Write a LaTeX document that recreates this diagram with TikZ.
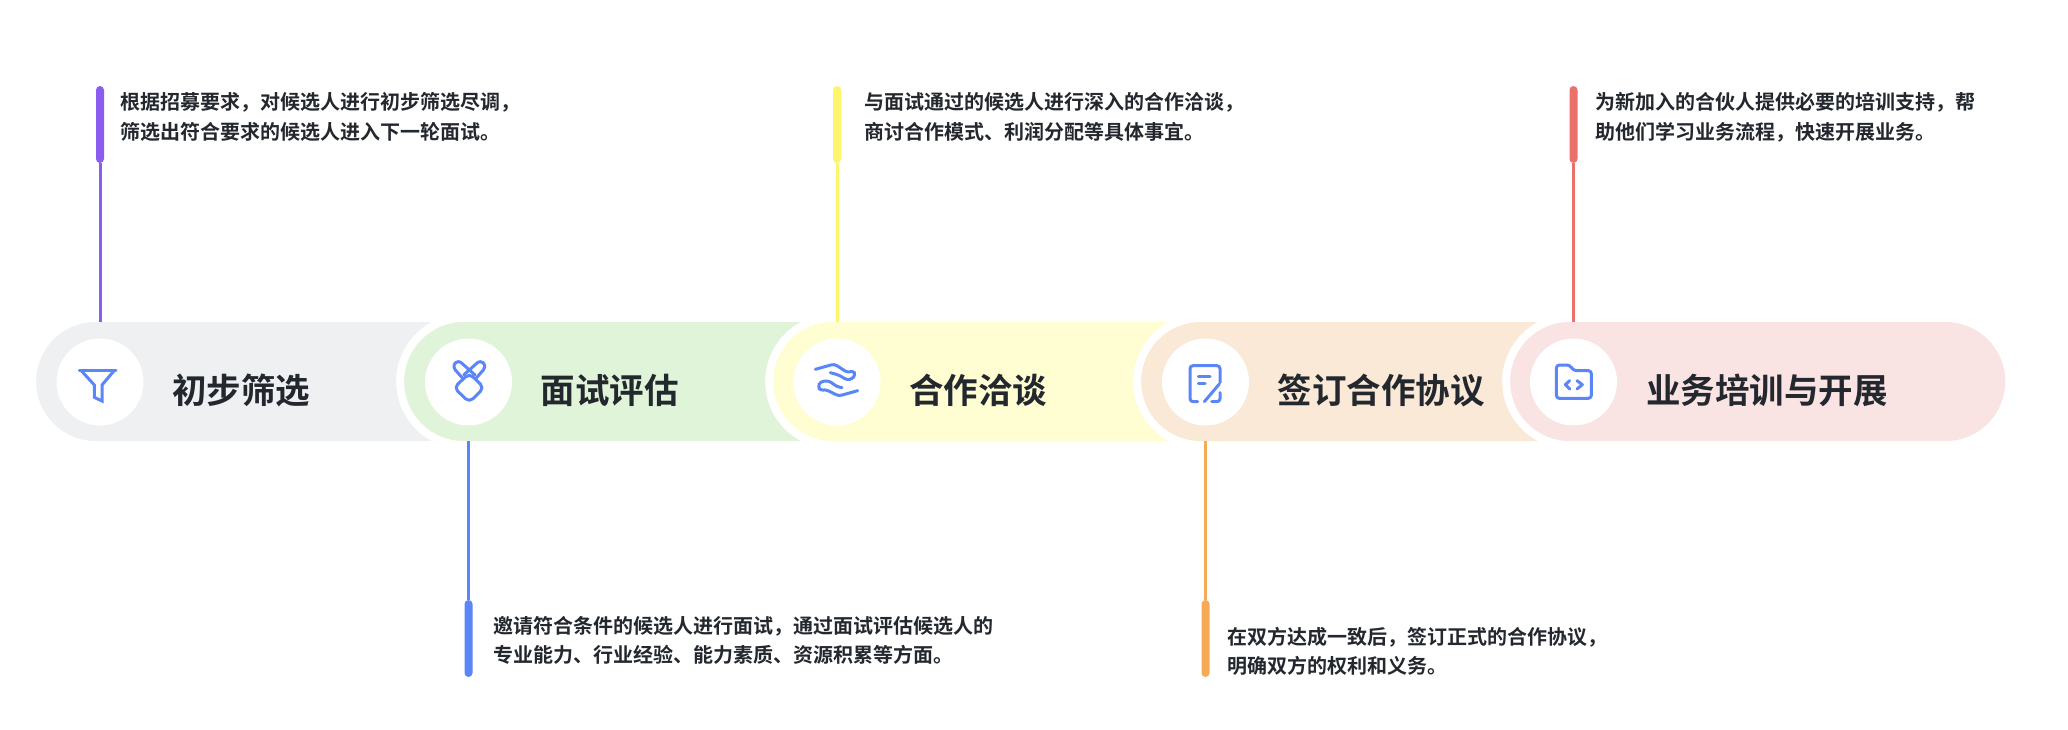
\documentclass[tikz,border=0pt]{standalone}
\usepackage{fontspec}
\setmainfont{Noto Sans CJK SC}[UprightFont=* Medium,BoldFont=* Bold]
\definecolor{ink}{HTML}{23272E}
\definecolor{icon}{HTML}{5B86F7}
\definecolor{pa}{HTML}{EEF0F2}
\definecolor{pb}{HTML}{DFF4D9}
\definecolor{pc}{HTML}{FFFED2}
\definecolor{pd}{HTML}{FAE9D6}
\definecolor{pe}{HTML}{F9E3E3}
\definecolor{la}{HTML}{8B5CF0}
\definecolor{lb}{HTML}{5B86F7}
\definecolor{lc}{HTML}{FFF56B}
\definecolor{ld}{HTML}{F5AB55}
\definecolor{le}{HTML}{EC706A}
\tikzset{
  pill/.style={rectangle,rounded corners=59.5pt,minimum height=119pt,inner sep=0pt,anchor=west},
  ring/.style={rectangle,rounded corners=67.5pt,minimum height=135pt,inner sep=0pt,anchor=west,fill=white},
  disc/.style={circle,fill=white,minimum size=87pt,inner sep=0pt},
  bar/.style={rectangle,rounded corners=4pt,minimum width=8pt,minimum height=77pt,inner sep=0pt},
  conn/.style={line width=3pt},
  title/.style={anchor=base west,inner sep=0pt,text=ink,font=\fontsize{34.5}{40}\selectfont\bfseries},
  desc/.style={anchor=base west,inner sep=0pt,text=ink,align=left,font=\fontsize{20}{29.5}\selectfont\bfseries},
  ico/.style={draw=icon,line width=3pt,line join=round,line cap=round},
  crop/.style={x=0.33333pt,y=-0.33333pt}
}
\begin{document}
\begin{tikzpicture}[x=1pt,y=-1pt]
\useasboundingbox (0,0) rectangle (2068,730);
\fill[white] (0,0) rectangle (2068,730);
% pills
\node[pill,fill=pa,minimum width=470pt] (p1) at (36,381.5) {};
\node[ring,minimum width=486pt] (r2) at (396,381.5) {};
\node[pill,fill=pb,minimum width=470pt] (p2) at (404,381.5) {};
\node[ring,minimum width=486pt] (r3) at (765,381.5) {};
\node[pill,fill=pc,minimum width=470pt] (p3) at (773,381.5) {};
\node[ring,minimum width=486pt] (r4) at (1133,381.5) {};
\node[pill,fill=pd,minimum width=470pt] (p4) at (1141,381.5) {};
\node[ring,minimum width=511pt] (r5) at (1502,381.5) {};
\node[pill,fill=pe,minimum width=495pt] (p5) at (1510,381.5) {};
% discs
\node[disc] (c1) at (100,382) {};
\node[disc] (c2) at (468.5,382) {};
\node[disc] (c3) at (837,382) {};
\node[disc] (c4) at (1205.5,382) {};
\node[disc] (c5) at (1573.5,382) {};
% icons
\begin{scope}[shift={(60,340)},crop]
\draw[ico,line join=miter] (58,90)--(168,90);
\draw[ico,line join=miter,line cap=butt] (62,90)--(103,135)--(103,172)--(126,183)--(126,135)--(164,90);
\end{scope}
\begin{scope}[shift={(430,340)},crop]
\draw[ico,rounded corners=5pt] (118,100)--(162,143)--(118,187)--(72,143)--cycle;
\draw[ico] (98,115)--(76,90) .. controls (68,80) and (72,66) .. (85,65) .. controls (90,65) and (93,67) .. (97,71)--(135,105);
\draw[ico] (138,115)--(160,90) .. controls (168,80) and (164,66) .. (151,65) .. controls (146,65) and (143,67) .. (139,71)--(101,105);
\end{scope}
\begin{scope}[shift={(797,340)},crop]
\draw[ico,rounded corners=3pt] (55,88)--(112,72)--(152,98)--(170,92)--(175,105)--(165,117)--(150,120)--(125,105)--(100,98);
\draw[ico,rounded corners=3pt] (135,143)--(120,140)--(95,122)--(70,125)--(63,140)--(70,152)--(85,148)--(125,168)--(182,152);
\end{scope}
\begin{scope}[shift={(1165,340)},crop]
\draw[ico,rounded corners=3pt] (98,185)--(75,185)--(75,77)--(165,77)--(165,128);
\draw[ico,rounded corners=3pt] (140,185)--(165,185)--(165,158);
\draw[ico] (100,108)--(135,108);
\draw[ico] (100,131)--(120,131);
\draw[ico] (118,185)--(163,132);
\end{scope}
\begin{scope}[shift={(1533,340)},crop]
\draw[ico,rounded corners=3pt] (70,75)--(110,75)--(122,92)--(175,92)--(175,175)--(70,175)--cycle;
\draw[ico] (110,122)--(97,134)--(110,147);
\draw[ico] (132,122)--(148,134)--(132,147);
\end{scope}
% titles
\node[title] (t1) at (172,403) {初步筛选};
\node[title] (t2) at (540.5,403) {面试评估};
\node[title] (t3) at (909,403) {合作洽谈};
\node[title] (t4) at (1277.5,403) {签订合作协议};
\node[title] (t5) at (1646,403) {业务培训与开展};
% bars
\node[bar,fill=la] (b1) at (100,124.5) {};
\node[bar,fill=lb] (b2) at (468.5,638.5) {};
\node[bar,fill=lc] (b3) at (837,124.5) {};
\node[bar,fill=ld] (b4) at (1205.5,638.5) {};
\node[bar,fill=le] (b5) at (1573.5,124.5) {};
% descriptions
\node[desc] (d1) at (120,139.5) {根据招募要求，对候选人进行初步筛选尽调，\\筛选出符合要求的候选人进入下一轮面试。};
\node[desc] (d2) at (493,662.5) {邀请符合条件的候选人进行面试，通过面试评估候选人的\\专业能力、行业经验、能力素质、资源积累等方面。};
\node[desc] (d3) at (864,139.5) {与面试通过的候选人进行深入的合作洽谈，\\商讨合作模式、利润分配等具体事宜。};
\node[desc] (d4) at (1227,673.5) {在双方达成一致后，签订正式的合作协议，\\明确双方的权利和义务。};
\node[desc] (d5) at (1595,139.5) {为新加入的合伙人提供必要的培训支持，帮\\助他们学习业务流程，快速开展业务。};
% connectors
\draw[conn,la] (b1.south) -- (b1.south |- p1.north);
\draw[conn,lb] (b2.north) -- (b2.north |- p2.south);
\draw[conn,lc] (b3.south) -- (b3.south |- p3.north);
\draw[conn,ld] (b4.north) -- (b4.north |- p4.south);
\draw[conn,le] (b5.south) -- (b5.south |- p5.north);
\end{tikzpicture}
\end{document}
